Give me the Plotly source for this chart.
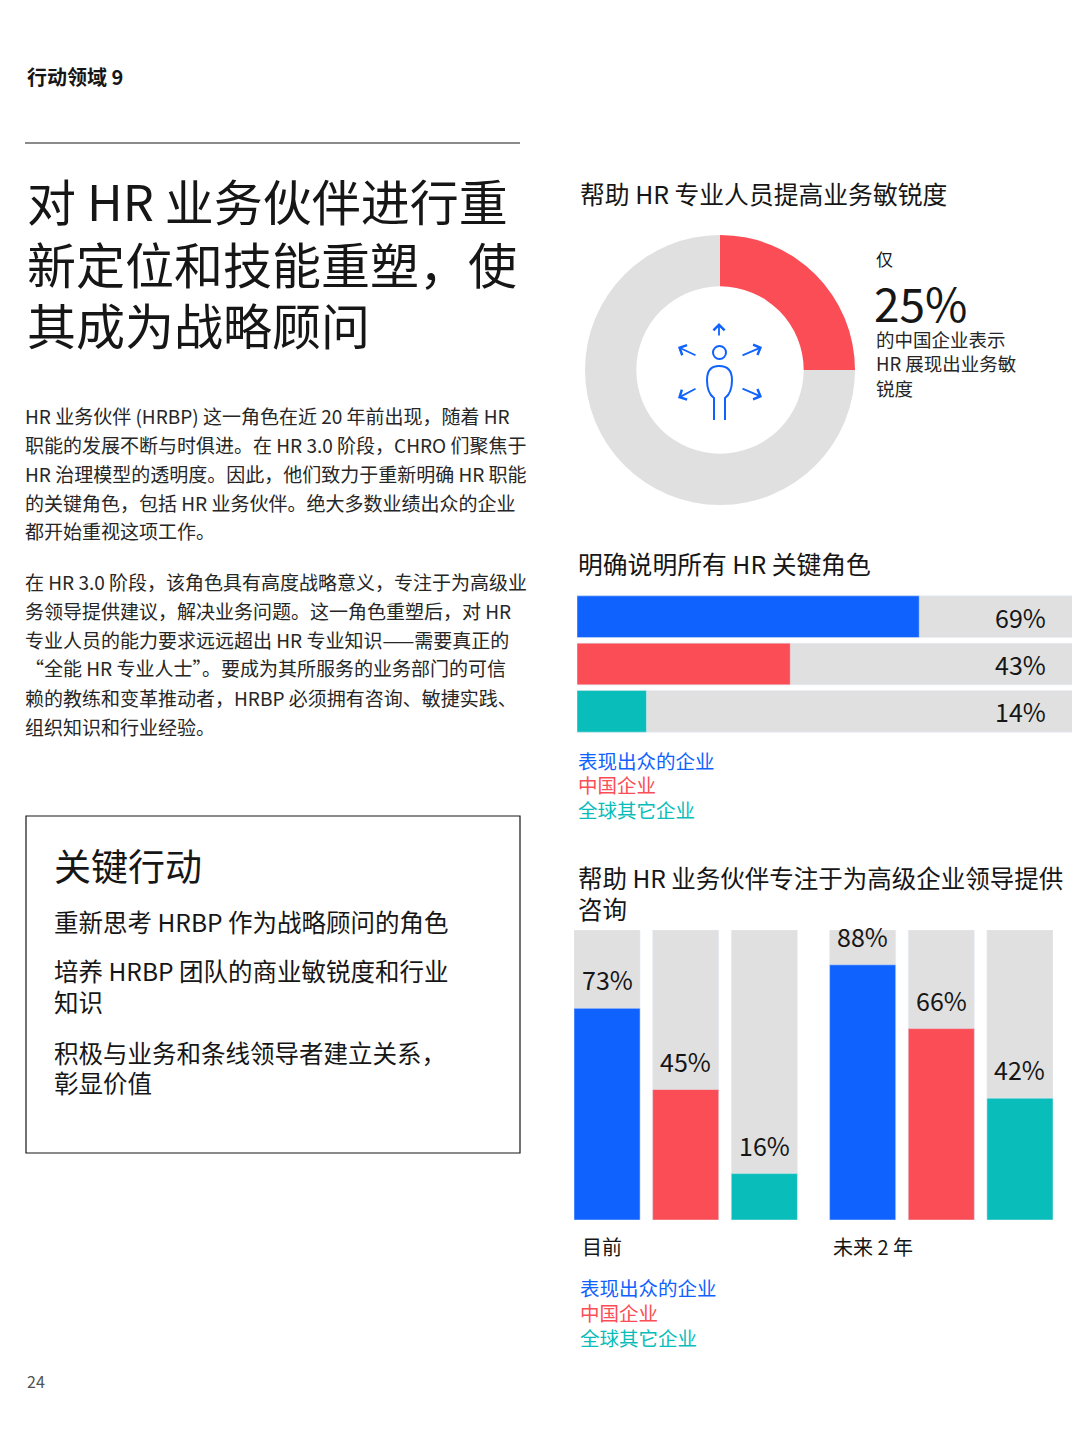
import plotly.graph_objects as go

W, H = 1080, 1440
OFF = 8  # page body margin
def px(x): return (x - OFF) / W
def py(y): return 1 - (y - OFF) / H

BLUE, RED, TEAL, GRAY = "#0f62fe", "#fa4d56", "#08bdba", "#e0e0e0"
FONT = "Noto Sans CJK SC"

donut_labels = ["中国企业", "其他"]
donut_values = [25, 75]

hbar_series = ["表现出众的企业", "中国企业", "全球其它企业"]
hbar_values = [69, 43, 14]

vbar_groups = ["目前", "未来 2 年"]
vbar_series = ["表现出众的企业", "中国企业", "全球其它企业"]
vbar_now = [73, 45, 16]
vbar_future = [88, 66, 42]

colors = [BLUE, RED, TEAL]

fig = go.Figure()

fig.add_trace(go.Pie(labels=donut_labels, values=donut_values, hole=0.62, sort=False,
                     direction="clockwise", rotation=0, marker=dict(colors=[RED, GRAY]),
                     textinfo="none", hoverinfo="skip", showlegend=False,
                     domain=dict(x=[px(585), px(855)], y=[py(505), py(235)])))

ycat = hbar_series[::-1]
fig.add_trace(go.Bar(y=ycat, x=[100]*3, orientation="h", marker_color=GRAY, width=0.88,
                     xaxis="x", yaxis="y", showlegend=False, hoverinfo="skip"))
fig.add_trace(go.Bar(y=ycat, x=hbar_values[::-1], orientation="h", marker_color=colors[::-1],
                     width=0.88, xaxis="x", yaxis="y", showlegend=False))

xpos = [0, 1, 2, 3.25, 4.25, 5.25]
vvals = vbar_now + vbar_future
fig.add_trace(go.Bar(x=xpos, y=[100]*6, marker_color=GRAY, width=0.84,
                     xaxis="x2", yaxis="y2", showlegend=False, hoverinfo="skip"))
fig.add_trace(go.Bar(x=xpos, y=vvals, marker_color=colors*2, width=0.84,
                     xaxis="x2", yaxis="y2", showlegend=False))

ann = []
def T(x, y, text, size, color="#161616"):
    ann.append(dict(x=px(x), y=py(y), xref="paper", yref="paper", text=text, showarrow=False,
                    xanchor="left", yanchor="middle", align="left",
                    font=dict(size=size, color=color, family=FONT)))

for v, c in zip(hbar_values, hbar_series):
    ann.append(dict(x=95, y=c, xref="x", yref="y", text=f"{v}%", showarrow=False, xanchor="right",
                    font=dict(size=25, color="#161616", family=FONT)))
for x, v in zip(xpos, vvals):
    ann.append(dict(x=x, y=v, xref="x2", yref="y2", text=f"{v}%", showarrow=False, yanchor="bottom",
                    yshift=9, font=dict(size=25, color="#161616", family=FONT)))

T(25, 76, "<b>行动领域 9</b>", 20)
for y, s in zip([200, 262, 323], ["对 HR 业务伙伴进行重", "新定位和技能重塑，使", "其成为战略顾问"]):
    T(25, y, s, 49)
p1 = ["HR 业务伙伴 (HRBP) 这一角色在近 20 年前出现，随着 HR",
      "职能的发展不断与时俱进。在 HR 3.0 阶段，CHRO 们聚焦于",
      "HR 治理模型的透明度。因此，他们致力于重新明确 HR 职能",
      "的关键角色，包括 HR 业务伙伴。绝大多数业绩出众的企业",
      "都开始重视这项工作。"]
p2 = ["在 HR 3.0 阶段，该角色具有高度战略意义，专注于为高级业",
      "务领导提供建议，解决业务问题。这一角色重塑后，对 HR",
      "专业人员的能力要求远远超出 HR 专业知识——需要真正的",
      "“全能 HR 专业人士”。要成为其所服务的业务部门的可信",
      "赖的教练和变革推动者，HRBP 必须拥有咨询、敏捷实践、",
      "组织知识和行业经验。"]
for i, s in enumerate(p1):
    T(23, 415 + 29 * i, s, 19, "#262626")
for i, s in enumerate(p2):
    T(23, 581 + 29 * i, s, 19, "#262626")
T(52, 865, "关键行动", 37)
for y, s in zip([921, 971, 1001, 1052, 1082],
                ["重新思考 HRBP 作为战略顾问的角色", "培养 HRBP 团队的商业敏锐度和行业", "知识",
                 "积极与业务和条线领导者建立关系，", "彰显价值"]):
    T(52, y, s, 24.5)
T(25, 1381, "24", 16, "#525252")

T(578, 193, "帮助 HR 专业人员提高业务敏锐度", 24.8)
T(874, 258, "仅", 17)
T(872, 302, "25%", 46)
for y, s in zip([339, 363, 388], ["的中国企业表示", "HR 展现出业务敏", "锐度"]):
    T(874, y, s, 18.5, "#262626")
T(576, 563, "明确说明所有 HR 关键角色", 24.8)
for i, (s, c) in enumerate(zip(hbar_series, colors)):
    T(576, 760 + i * 24.5, s, 19.5, c)
T(576, 877, "帮助 HR 业务伙伴专注于为高级企业领导提供", 24.5)
T(576, 908, "咨询", 24.5)
T(580, 1246, "目前", 20)
T(831, 1246, "未来 2 年", 20)
for i, (s, c) in enumerate(zip(vbar_series, colors)):
    T(578, 1287 + i * 25, s, 19.5, c)

ic = dict(color=BLUE, width=2)
shapes = [
    dict(type="line", xref="paper", yref="paper", x0=px(25), x1=px(520), y0=py(143), y1=py(143),
         line=dict(color="#161616", width=1)),
    dict(type="rect", xref="paper", yref="paper", x0=px(26), x1=px(520), y0=py(816), y1=py(1153),
         line=dict(color="#161616", width=1.2)),
    dict(type="circle", xref="paper", yref="paper", x0=px(713), x1=px(726), y0=py(359), y1=py(346), line=ic),
    dict(type="path", xref="paper", yref="paper",
         path=f"M {px(714)},{py(420)} L {px(714)},{py(398)} Q {px(707)},{py(393)} {px(707)},{py(380)} "
              f"Q {px(707)},{py(366)} {px(719)},{py(366)} Q {px(732)},{py(366)} {px(732)},{py(380)} "
              f"Q {px(732)},{py(393)} {px(725)},{py(398)} L {px(725)},{py(420)}", line=ic),
]
arrows = [((719, 337), (719, 323)), ((697, 356), (678, 347)), ((741, 356), (762, 347)),
          ((697, 388), (678, 398)), ((741, 388), (762, 397))]
for (x0, y0), (x1, y1) in arrows:
    ann.append(dict(x=px(x1), y=py(y1), ax=x0 - x1, ay=y0 - y1, xref="paper", yref="paper",
                    axref="pixel", ayref="pixel", showarrow=True, arrowhead=4, arrowsize=1.2,
                    arrowwidth=1.8, arrowcolor=BLUE, text=""))

fig.update_layout(
    width=W, height=H, margin=dict(l=0, r=0, t=0, b=0), paper_bgcolor="white", plot_bgcolor="white",
    barmode="overlay", annotations=ann, shapes=shapes,
    xaxis=dict(domain=[px(577), px(1073)], range=[0, 100], visible=False, fixedrange=True),
    yaxis=dict(domain=[py(735), py(593)], categoryorder="array", categoryarray=ycat, visible=False),
    xaxis2=dict(domain=[px(574), px(1053)], range=[-0.42, 5.67], visible=False),
    yaxis2=dict(domain=[py(1220), py(930)], range=[0, 100], visible=False),
)
fig.write_html("out.html")
